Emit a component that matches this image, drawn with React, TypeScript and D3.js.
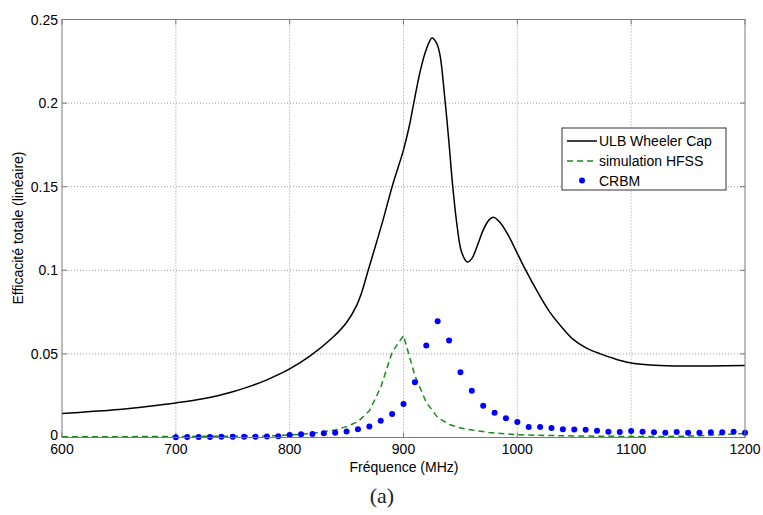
import React from "react";
import * as d3 from "d3";

const ulbFreq = [600, 625, 650, 675, 700, 725, 750, 765, 780, 800, 818, 838, 850, 859, 863, 869, 876, 882, 890, 900, 905, 909, 915, 920, 925, 929, 932, 936, 940, 943, 947, 951, 956, 960, 965, 970, 975, 979, 985, 992, 999, 1007, 1018, 1029, 1040, 1049, 1060, 1073, 1085, 1099, 1117, 1140, 1170, 1200];
const ulbVal = [0.0143, 0.0155, 0.0168, 0.0186, 0.0207, 0.0233, 0.0274, 0.0306, 0.0345, 0.041, 0.0488, 0.06, 0.0688, 0.0792, 0.0862, 0.1, 0.116, 0.13, 0.15, 0.172, 0.186, 0.2, 0.22, 0.232, 0.239, 0.236, 0.229, 0.205, 0.176, 0.152, 0.127, 0.111, 0.105, 0.107, 0.115, 0.124, 0.13, 0.1317, 0.1285, 0.121, 0.1115, 0.1005, 0.0868, 0.0745, 0.0652, 0.0587, 0.0538, 0.05, 0.0472, 0.0447, 0.0433, 0.0428, 0.0428, 0.043];

const hfssFreq = [600, 650, 700, 750, 780, 800, 820, 840, 850, 860, 870, 880, 890, 900, 910, 920, 930, 940, 950, 960, 975, 1000, 1050, 1100, 1130, 1160, 1180, 1200];
const hfssVal = [0.0005, 0.0005, 0.0006, 0.0008, 0.001, 0.0015, 0.0025, 0.0045, 0.0065, 0.0095, 0.016, 0.03, 0.051, 0.061, 0.037, 0.021, 0.012, 0.0078, 0.0057, 0.0045, 0.003, 0.0016, 0.0009, 0.0006, 0.0006, 0.001, 0.0018, 0.0024];

const crbmFreq = d3.range(700, 1201, 10);
const crbmVal = [0.0002, 0.0003, 0.0003, 0.0003, 0.0004, 0.0004, 0.0005, 0.0005, 0.0006, 0.0007, 0.0015, 0.0019, 0.0021, 0.0025, 0.0029, 0.0036, 0.0049, 0.0066, 0.01, 0.014, 0.02, 0.033, 0.055, 0.0695, 0.058, 0.039, 0.028, 0.019, 0.0148, 0.0115, 0.0093, 0.0063, 0.0063, 0.0057, 0.0049, 0.0048, 0.0046, 0.0041, 0.0035, 0.0033, 0.0039, 0.0035, 0.0031, 0.0029, 0.0033, 0.0029, 0.0029, 0.0031, 0.0031, 0.0035, 0.0029];

const xTicks = [600, 700, 800, 900, 1000, 1100, 1200];
const yTicks = [0, 0.05, 0.1, 0.15, 0.2, 0.25];
const yTickLabels = ["0", "0.05", "0.1", "0.15", "0.2", "0.25"];
const legendLabels = ["ULB Wheeler Cap", "simulation HFSS", "CRBM"];

const W = 763, H = 515;
const L = 62, R = 745, T = 19.5, B = 437.5;

export default function App() {
  const x = d3.scaleLinear().domain([600, 1200]).range([L, R]);
  const y = d3.scaleLinear().domain([0, 0.25]).range([B, T]);
  const ulbLine = d3.line<number>().x((_, i) => x(ulbFreq[i])).y((d) => y(d)).curve(d3.curveCatmullRom.alpha(0.5));
  const hfssLine = d3.line<number>().x((_, i) => x(hfssFreq[i])).y((d) => y(d)).curve(d3.curveLinear);
  const font = "'Liberation Sans', Arial, sans-serif";
  const axisColor = "#7a7a7a";
  const gridColor = "#9a9a9a";
  const tickLen = 5;
  return (
    <svg width={W} height={H} style={{ position: "absolute", left: 0, top: 0, background: "#fff" }} fontFamily={font}>
      <rect x={0} y={0} width={W} height={H} fill="#fff" />
      {xTicks.slice(1, -1).map((t) => (
        <line key={"gx" + t} x1={x(t)} x2={x(t)} y1={T} y2={B} stroke={gridColor} strokeWidth={1} strokeDasharray="1,2" />
      ))}
      {yTicks.slice(1, -1).map((t) => (
        <line key={"gy" + t} x1={L} x2={R} y1={y(t)} y2={y(t)} stroke={gridColor} strokeWidth={1} strokeDasharray="1,2" />
      ))}
      {xTicks.map((t) => (
        <g key={"tx" + t}>
          <line x1={x(t)} x2={x(t)} y1={B} y2={B - tickLen} stroke={axisColor} />
          <line x1={x(t)} x2={x(t)} y1={T} y2={T + tickLen} stroke={axisColor} />
          <text x={x(t)} y={454} textAnchor="middle" fontSize={14} fill="#000">{t}</text>
        </g>
      ))}
      {yTicks.map((t, i) => (
        <g key={"ty" + t}>
          <line x1={L} x2={L + tickLen} y1={y(t)} y2={y(t)} stroke={axisColor} />
          <line x1={R} x2={R - tickLen} y1={y(t)} y2={y(t)} stroke={axisColor} />
          <text x={58} y={y(t) + (i === 0 ? 2.5 : 5)} textAnchor="end" fontSize={14} fill="#000">{yTickLabels[i]}</text>
        </g>
      ))}
      <path d={hfssLine(hfssVal) || ""} fill="none" stroke="#1a8a1a" strokeWidth={1.5} strokeDasharray="6,4" />
      <path d={ulbLine(ulbVal) || ""} fill="none" stroke="#000" strokeWidth={1.5} />
      {crbmVal.map((v, i) => (
        <circle key={"c" + i} cx={x(crbmFreq[i])} cy={y(v)} r={3} fill="#0000ff" />
      ))}
      <rect x={L} y={T} width={R - L} height={B - T} fill="none" stroke={axisColor} strokeWidth={1} />
      <g>
        <rect x={562} y={128} width={164} height={62} fill="#fff" stroke="#333" strokeWidth={1} />
        <line x1={567} x2={597} y1={141} y2={141} stroke="#000" strokeWidth={1.5} />
        <text x={599} y={146} fontSize={14} fill="#000">{legendLabels[0]}</text>
        <line x1={567} x2={597} y1={161} y2={161} stroke="#1a8a1a" strokeWidth={1.5} strokeDasharray="6,4" />
        <text x={599} y={166} fontSize={14} fill="#000">{legendLabels[1]}</text>
        <circle cx={582} cy={180.5} r={3} fill="#0000ff" />
        <text x={599} y={186} fontSize={14} fill="#000">{legendLabels[2]}</text>
      </g>
      <text x={404} y={472} textAnchor="middle" fontSize={14} fill="#000">Fréquence (MHz)</text>
      <text transform={`translate(23, 228) rotate(-90)`} textAnchor="middle" fontSize={14} fill="#000">Efficacité totale (linéaire)</text>
      <text x={382} y={503} textAnchor="middle" fontSize={22} fontFamily="'Liberation Serif', 'DejaVu Serif', serif" fill="#222">(a)</text>
    </svg>
  );
}
